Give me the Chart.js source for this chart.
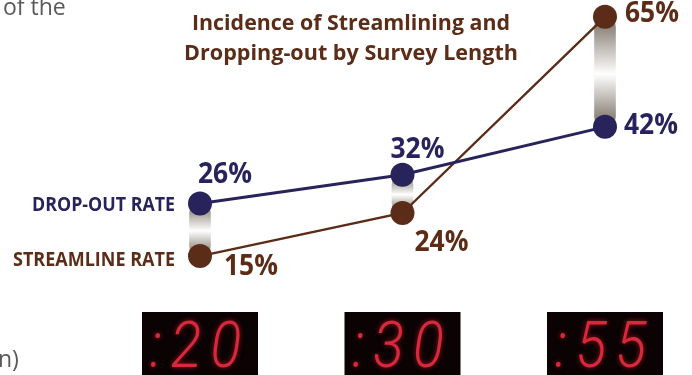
<!DOCTYPE html>
<html>
<head>
<meta charset="utf-8">
<style>
  html, body { margin: 0; padding: 0; background: #fff; overflow: hidden; }
  #wrap { position: relative; width: 692px; height: 375px; }
  canvas { position: absolute; left: 0; top: 0; }
  .aside {
    position: absolute;
    font-family: "Open Sans", sans-serif;
    font-size: 23px;
    color: #5a5a5c;
    white-space: nowrap;
  }
</style>
<script src="https://cdn.jsdelivr.net/npm/chart.js@4"></script>
</head>
<body>
<div id="wrap">
  <canvas id="chart" width="692" height="375"></canvas>
  <span class="aside" style="left:3px; top:-10px;">of the</span>
  <span class="aside" style="left:-2px; top:342px;">n)</span>
</div>
<script>
// Data
const surveyLengths = [":20", ":30", ":55"];
const dropOutRate = [26, 32, 42];
const streamlineRate = [15, 24, 65];
const seriesNames = ["DROP-OUT RATE", "STREAMLINE RATE"];
const titleLines = ["Incidence of Streamlining and", "Dropping-out by Survey Length"];

const NAVY = "#29235c";
const BROWN = "#5b2c17";

// capsule between the two rates at each survey length
const capsules = surveyLengths.map((_, i) => [
  Math.min(dropOutRate[i], streamlineRate[i]),
  Math.max(dropOutRate[i], streamlineRate[i]),
]);

// where the % labels sit, relative to each point (left edge, baseline)
const labelOffsets = [
  [[-2, -20], [-12, -17], [19, 7]],
  [[24, 19], [12, 38], [20, 5]],
];

function capsuleGradient(context) {
  const { chart, parsed } = context;
  if (!chart.chartArea || !parsed || !parsed._custom) return "#bbb";
  const y = chart.scales.y;
  const top = y.getPixelForValue(parsed._custom.max);
  const bottom = y.getPixelForValue(parsed._custom.min);
  const g = chart.ctx.createLinearGradient(0, top, 0, bottom);
  g.addColorStop(0, "#766c5f");
  g.addColorStop(0.52, "#ffffff");
  g.addColorStop(1, "#73695d");
  return g;
}

const annotate = {
  id: "annotate",
  beforeDatasetsDraw(chart) {
    const ctx = chart.ctx;
    const x = chart.scales.x;
    ctx.save();
    // LED style survey length labels
    surveyLengths.forEach((label, i) => {
      const cx = x.getPixelForValue(i);
      ctx.fillStyle = "#0b0203";
      ctx.fillRect(cx - 58, 312, 116, 70);
      ctx.font = "italic 300 64px Roboto, sans-serif";
      ctx.letterSpacing = "10px";
      ctx.textAlign = "left";
      ctx.textBaseline = "alphabetic";
      ctx.fillStyle = "#d8283c";
      ctx.shadowColor = "rgba(255, 40, 60, 0.6)";
      ctx.shadowBlur = 5;
      ctx.fillText(label, cx - 50, 367, 100);
      ctx.shadowBlur = 0;
      ctx.letterSpacing = "0px";
    });

    // title
    ctx.fillStyle = BROWN;
    ctx.font = "bold 22px 'Open Sans', sans-serif";
    ctx.textAlign = "center";
    ctx.fillText(titleLines[0], 351, 30, 318);
    ctx.fillText(titleLines[1], 351, 60, 334);
    ctx.restore();
  },
  afterDatasetsDraw(chart) {
    const ctx = chart.ctx;
    ctx.save();
    [0, 1].forEach((di) => {
      const ds = chart.data.datasets[di];
      const meta = chart.getDatasetMeta(di);

      // series name left of first point
      const first = meta.data[0];
      ctx.fillStyle = ds.borderColor;
      ctx.font = "bold 19px 'Open Sans', sans-serif";
      ctx.textAlign = "right";
      ctx.fillText(seriesNames[di], first.x - 25, first.y + (di === 0 ? 8 : 10), di === 0 ? 143 : 162);

      // value labels
      ctx.font = "bold 28px 'Open Sans', sans-serif";
      ctx.textAlign = "left";
      meta.data.forEach((pt, i) => {
        const [dx, dy] = labelOffsets[di][i];
        ctx.fillText(ds.data[i] + "%", pt.x + dx, pt.y + dy, 54);
      });
    });
    ctx.restore();
  },
};

new Chart(document.getElementById("chart"), {
  type: "bar",
  data: {
    labels: surveyLengths,
    datasets: [
      {
        type: "line",
        label: seriesNames[0],
        data: dropOutRate,
        borderColor: NAVY,
        borderWidth: 3,
        pointRadius: 12,
        pointHoverRadius: 12,
        pointBorderWidth: 0,
        pointBackgroundColor: NAVY,
        tension: 0,
        clip: false,
        order: 1,
      },
      {
        type: "line",
        label: seriesNames[1],
        data: streamlineRate,
        borderColor: BROWN,
        borderWidth: 2.4,
        pointRadius: 12,
        pointHoverRadius: 12,
        pointBorderWidth: 0,
        pointBackgroundColor: BROWN,
        tension: 0,
        clip: false,
        order: 2,
      },
      {
        type: "bar",
        label: "range",
        data: capsules,
        backgroundColor: capsuleGradient,
        barThickness: 21,
        borderRadius: 11,
        borderSkipped: false,
        clip: false,
        order: 3,
      },
    ],
  },
  options: {
    responsive: false,
    animation: false,
    devicePixelRatio: 1,
    events: [],
    layout: {
      padding: { left: 200, right: 87, top: 11, bottom: 95 },
    },
    scales: {
      x: { type: "category", offset: false, display: false },
      y: { min: 10, max: 66, display: false },
    },
    plugins: {
      legend: { display: false },
      tooltip: { enabled: false },
      title: { display: false },
    },
  },
  plugins: [annotate],
});
</script>
</body>
</html>
